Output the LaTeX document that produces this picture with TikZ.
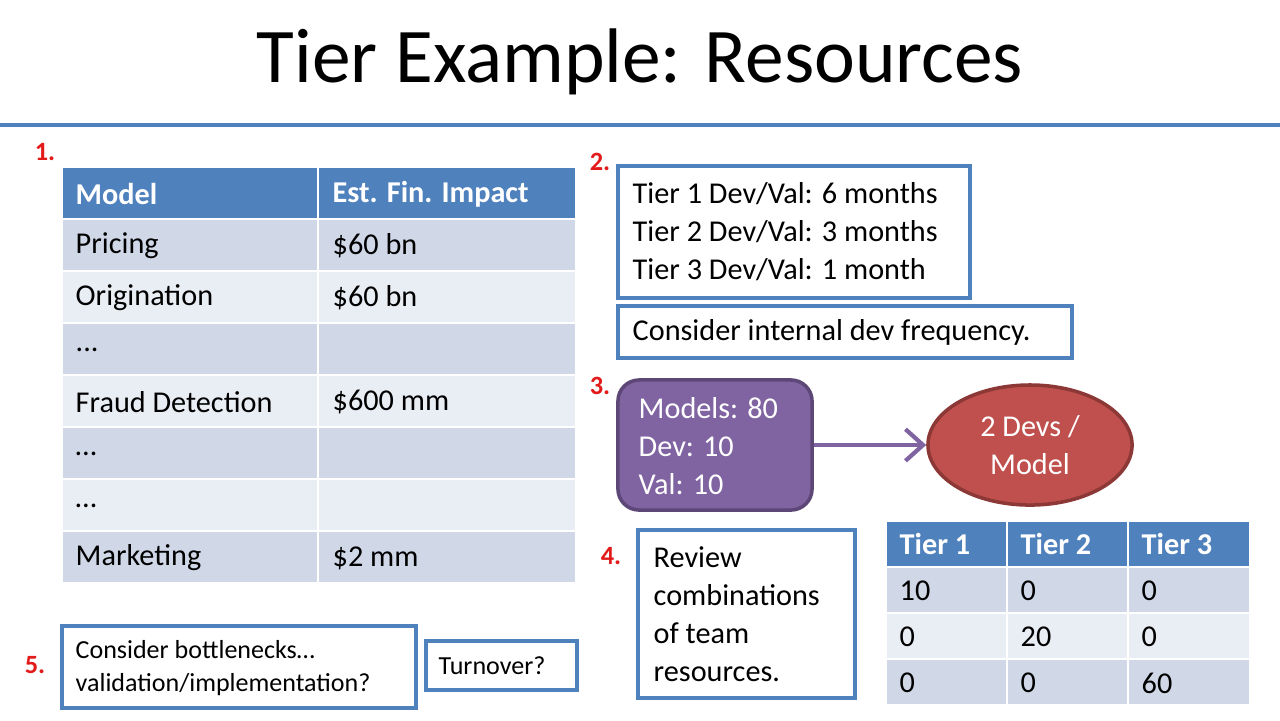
\documentclass[tikz,border=0pt]{standalone}
\usepackage{fontspec}
\setmainfont{Carlito}
\usetikzlibrary{arrows.meta,shapes.geometric}
\definecolor{hdblue}{HTML}{4F81BD}
\definecolor{rowa}{HTML}{D0D8E8}
\definecolor{rowb}{HTML}{E9EDF4}
\definecolor{purp}{HTML}{8064A2}
\definecolor{purpd}{HTML}{5C4776}
\definecolor{redf}{HTML}{C0504D}
\definecolor{redd}{HTML}{8C3836}
\definecolor{numred}{HTML}{E31A1A}
\newcommand{\tdots}{...}
\tikzset{
  box/.style={draw=hdblue,line width=1pt,fill=white,inner sep=0pt},
  txt/.style={inner sep=0pt,anchor=west,font=\fontsize{8.6}{10.8}\selectfont},
  num/.style={inner sep=0pt,text=numred,font=\fontsize{7.5}{9}\selectfont\bfseries},
  hd/.style={txt,text=white,font=\fontsize{8.6}{10.8}\selectfont\bfseries}
}
\begin{document}
\begin{tikzpicture}[x=0.01cm,y=-0.01cm]
\useasboundingbox (0,0) rectangle (1280,720);
\fill[white] (0,0) rectangle (1280,720);
\node[inner sep=0pt,font=\fontsize{22}{26}\selectfont] (title) at (640,62) {Tier Example: Resources};
\draw[hdblue,line width=1.2pt] (0,125) -- (1280,125);
% table 1
\fill[hdblue] (63,168) rectangle (575,218);
\foreach \i/\c in {0/rowa,1/rowb,2/rowa,3/rowb,4/rowa,5/rowb,6/rowa}
  \fill[\c] (63,220+52*\i) rectangle (575,270+52*\i);
\draw[white,line width=0.6pt] (318,168) -- (318,582);
\node[hd] (m) at (75,194) {Model};
\node[hd] (e) at (332,194) {Est. Fin. Impact};
\foreach \i/\a/\b in {0/Pricing/\$60 bn,1/Origination/\$60 bn,2/\tdots/,3/Fraud Detection/\$600 mm,4/\dots/,5/\dots/,6/Marketing/\$2 mm}{
  \node[txt] (l\i) at (75,246+52*\i) {\a};
  \node[txt] (r\i) at (332,246+52*\i) {\b};
}
% boxes
\draw[box] (618,166) rectangle (970,298);
\node[txt,align=left] (tiers) at (632,232) {Tier 1 Dev/Val: 6 months\\Tier 2 Dev/Val: 3 months\\Tier 3 Dev/Val: 1 month};
\draw[box] (618,306) rectangle (1072,358);
\node[txt] (freq) at (632,332) {Consider internal dev frequency.};
\node[draw=purpd,fill=purp,line width=1pt,rounded corners=6pt,minimum width=1.94cm,minimum height=1.3cm,inner sep=0pt] (team) at (715,445) {};
\node[txt,text=white,align=left] (teamt) at (638,446) {Models: 80\\Dev: 10\\Val: 10};
\node[ellipse,draw=redd,fill=redf,line width=1pt,minimum width=2.04cm,minimum height=1.2cm,inner sep=0pt,text=white,align=center,font=\fontsize{8.6}{10.8}\selectfont] (ratio) at (1030,445) {2 Devs /\\Model};
\draw[purp,line width=1.2pt,-{Straight Barb[length=5pt,width=9pt]}] (team.east) -- (ratio.west);
\draw[box] (638,530) rectangle (855,698);
\node[txt,align=left] (review) at (653,614) {Review\\combinations\\of team\\resources.};
% table 2
\fill[hdblue] (887,522) rectangle (1249,566);
\foreach \i/\c in {0/rowa,1/rowb,2/rowa}
  \fill[\c] (887,568+46*\i) rectangle (1249,612+46*\i);
\draw[white,line width=0.6pt] (1007,522) -- (1007,704) (1128,522) -- (1128,704);
\foreach \j/\t in {0/Tier 1,1/Tier 2,2/Tier 3}
  \node[hd] (h\j) at (899+121*\j,544) {\t};
\foreach \i/\a/\b/\c in {0/10/0/0,1/0/20/0,2/0/0/60}{
  \node[txt] (a\i) at (899,591+46*\i) {\a};
  \node[txt] (b\i) at (1020,591+46*\i) {\b};
  \node[txt] (c\i) at (1141,591+46*\i) {\c};
}
\draw[box] (62,626) rectangle (416,708);
\node[txt,align=left,font=\fontsize{7.4}{9.6}\selectfont] (bott) at (75,668) {Consider bottlenecks\dots\\validation/implementation?};
\draw[box] (426,641) rectangle (577,690);
\node[txt,font=\fontsize{7.4}{9}\selectfont] (turn) at (438,666) {Turnover?};
% numbers
\node[num] (n1) at (45,152) {1.};
\node[num] (n2) at (600,162) {2.};
\node[num] (n3) at (600,386) {3.};
\node[num] (n4) at (611,556) {4.};
\node[num] (n5) at (35,665) {5.};
\end{tikzpicture}
\end{document}
